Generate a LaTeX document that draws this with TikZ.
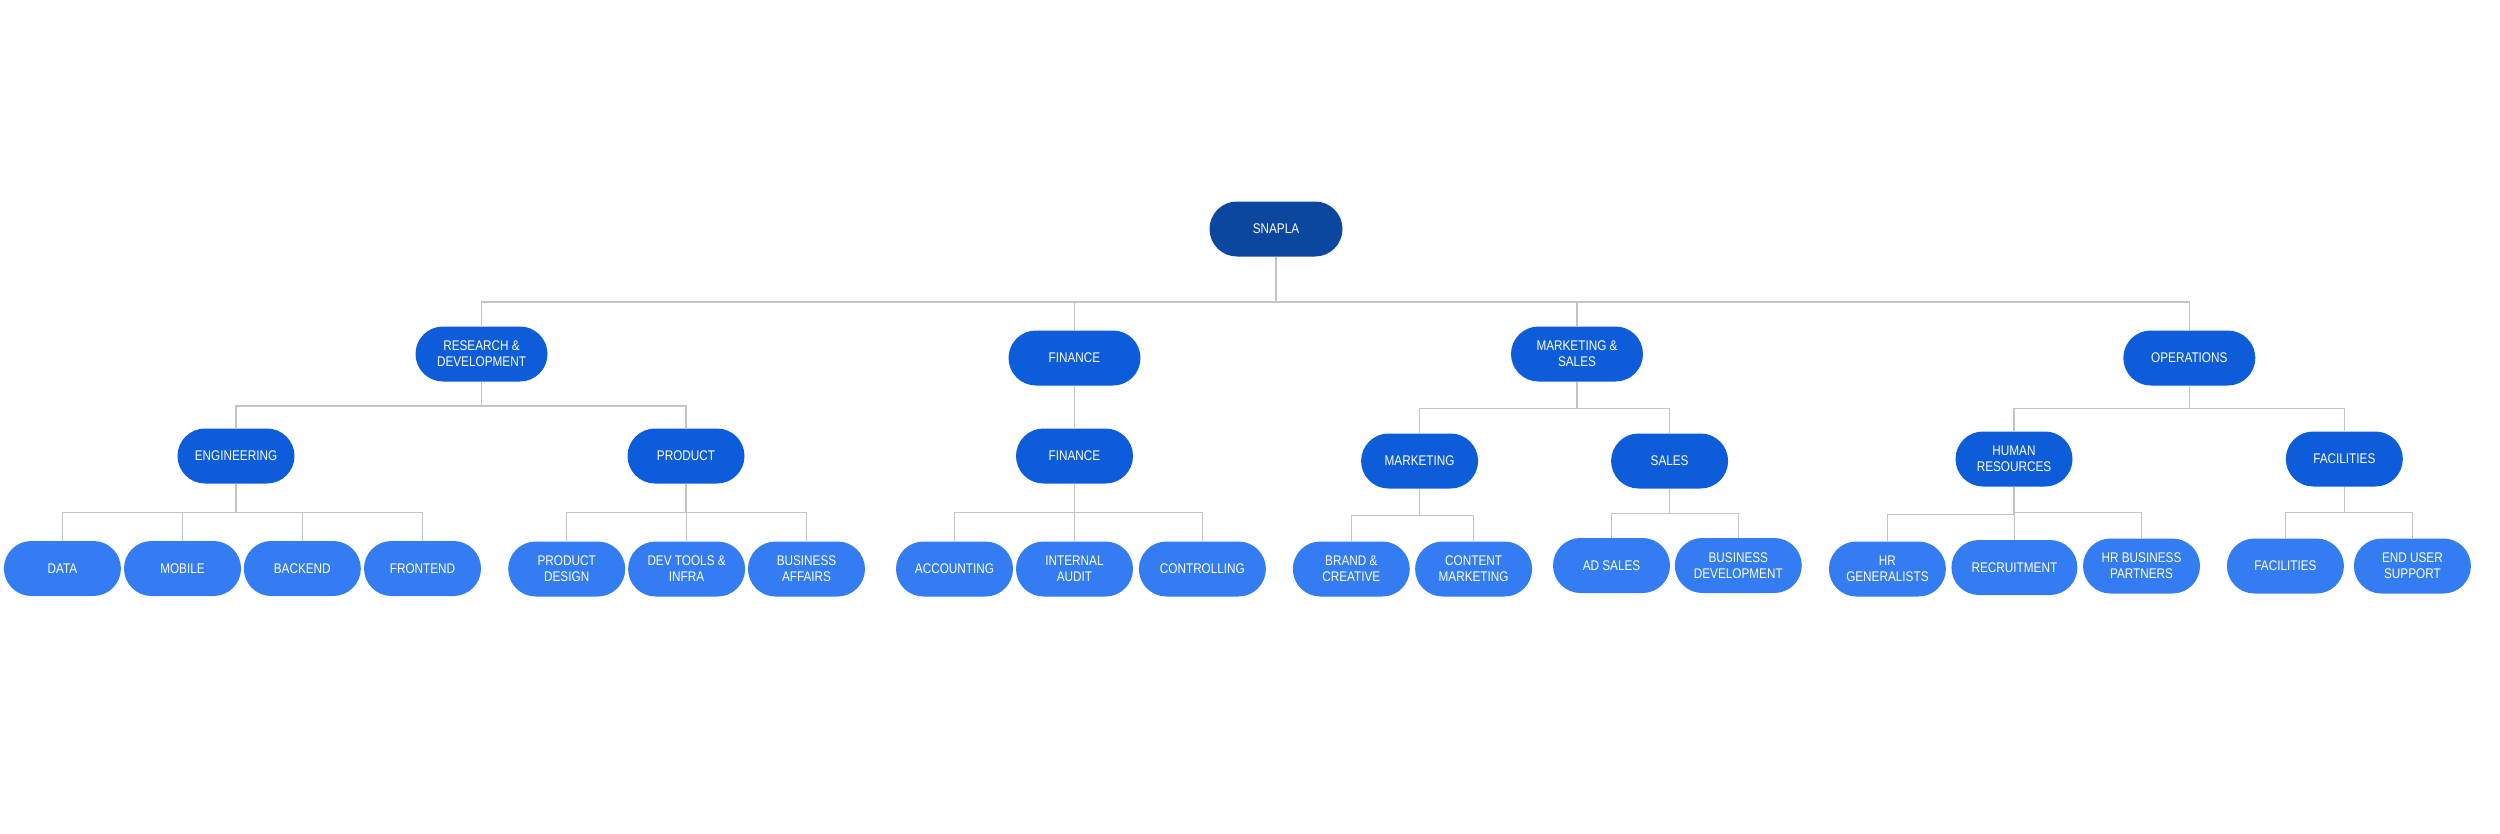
\documentclass[tikz,border=0pt]{standalone}
\usepackage{fontspec}
\setmainfont[FakeStretch=0.84]{Liberation Sans}
\definecolor{cTop}{HTML}{0B469F}
\definecolor{cMid}{HTML}{0D5CD9}
\definecolor{cLeaf}{HTML}{337CF2}
\definecolor{cLine}{HTML}{C4C4C4}
\tikzset{
  box/.style={rounded corners=27.5pt, minimum height=55pt, inner sep=0pt, align=center, text=white, font=\fontsize{14}{16}\selectfont},
  topbox/.style={box, fill=cTop, minimum width=133pt},
  lvlone/.style={box, fill=cMid, minimum width=132pt},
  lvltwo/.style={box, fill=cMid, minimum width=117pt},
  leafbox/.style={box, fill=cLeaf, minimum width=117pt},
  connline/.style={draw=cLine, line width=1.3pt}
}
\newcommand\orgconn[3]{\draw[connline] (#1.south) -- (#1.south |- 0,#3) -| (#2.north);}
\begin{document}
\begin{tikzpicture}[x=1pt,y=-1pt]
\useasboundingbox (0,0) rectangle (2500,833);
% root
\node[topbox] (root) at (1276,229) {SNAPLA};
% level 1
\node[lvlone] (rd)  at (481.5,354) {RESEARCH \&\\DEVELOPMENT};
\node[lvlone] (fin) at (1074.5,358) {FINANCE};
\node[lvlone] (ms)  at (1577,354) {MARKETING \&\\SALES};
\node[lvlone] (ops) at (2189.3,358) {OPERATIONS};
% level 2
\node[lvltwo] (eng)  at (236,456) {ENGINEERING};
\node[lvltwo] (prod) at (686,456) {PRODUCT};
\node[lvltwo] (fint) at (1074.5,456) {FINANCE};
\node[lvltwo] (mkt)  at (1419.6,461) {MARKETING};
\node[lvltwo] (sal)  at (1669.6,461) {SALES};
\node[lvltwo] (hr)   at (2014,459) {HUMAN\\RESOURCES};
\node[lvltwo] (fac)  at (2344.3,459) {FACILITIES};
% level 3
\node[leafbox] (data) at (62.4,568.5) {DATA};
\node[leafbox] (mob)  at (182.5,568.5) {MOBILE};
\node[leafbox] (back) at (302.3,568.5) {BACKEND};
\node[leafbox] (front) at (422.5,568.5) {FRONTEND};
\node[leafbox] (pdes) at (566.7,569) {PRODUCT\\DESIGN};
\node[leafbox] (dev)  at (686.6,569) {DEV TOOLS \&\\INFRA};
\node[leafbox] (baff) at (806.5,569) {BUSINESS\\AFFAIRS};
\node[leafbox] (acc)  at (954.5,569) {ACCOUNTING};
\node[leafbox] (iaud) at (1074.5,569) {INTERNAL\\AUDIT};
\node[leafbox, minimum width=127pt] (ctrl) at (1202.4,569) {CONTROLLING};
\node[leafbox] (brand) at (1351.3,569) {BRAND \&\\CREATIVE};
\node[leafbox] (cont)  at (1473.6,569) {CONTENT\\MARKETING};
\node[leafbox] (ads)   at (1611.5,565.5) {AD SALES};
\node[leafbox, minimum width=127pt] (bdev) at (1738.3,565.5) {BUSINESS\\DEVELOPMENT};
\node[leafbox] (hrg)  at (1887.4,569) {HR\\GENERALISTS};
\node[leafbox, minimum width=126pt] (rec) at (2014.4,567.5) {RECRUITMENT};
\node[leafbox] (hrbp) at (2141.5,566) {HR BUSINESS\\PARTNERS};
\node[leafbox] (facl) at (2285.4,566) {FACILITIES};
\node[leafbox] (eus)  at (2412.4,566) {END USER\\SUPPORT};
% connectors
\orgconn{root}{rd}{302}
\orgconn{root}{fin}{302}
\orgconn{root}{ms}{302}
\orgconn{root}{ops}{302}
\orgconn{rd}{eng}{406}
\orgconn{rd}{prod}{406}
\orgconn{fin}{fint}{406}
\orgconn{ms}{mkt}{408.5}
\orgconn{ms}{sal}{408.5}
\orgconn{ops}{hr}{408.3}
\orgconn{ops}{fac}{408.3}
\orgconn{eng}{data}{512.3}
\orgconn{eng}{mob}{512.3}
\orgconn{eng}{back}{512.3}
\orgconn{eng}{front}{512.3}
\orgconn{prod}{pdes}{512.3}
\orgconn{prod}{dev}{512.3}
\orgconn{prod}{baff}{512.3}
\orgconn{fint}{acc}{512.3}
\orgconn{fint}{iaud}{512.3}
\orgconn{fint}{ctrl}{512.3}
\orgconn{mkt}{brand}{515.3}
\orgconn{mkt}{cont}{515.3}
\orgconn{sal}{ads}{513.3}
\orgconn{sal}{bdev}{513.3}
\orgconn{hr}{hrg}{514.3}
\orgconn{hr}{rec}{512.3}
\orgconn{hr}{hrbp}{512.3}
\orgconn{fac}{facl}{512.3}
\orgconn{fac}{eus}{512.3}
\end{tikzpicture}
\end{document}
